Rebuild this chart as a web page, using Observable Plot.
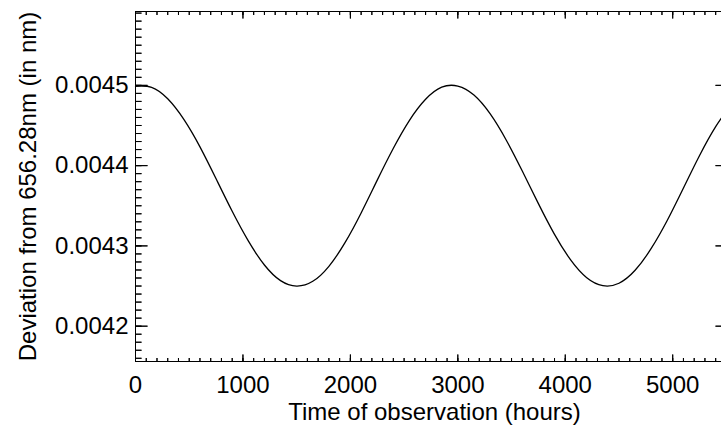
<!DOCTYPE html>
<html>
<head>
<meta charset="utf-8">
<script src="https://cdn.jsdelivr.net/npm/d3@7"></script>
<script src="https://cdn.jsdelivr.net/npm/@observablehq/plot@0.6"></script>
<style>
  html, body { margin: 0; padding: 0; background: #fff; overflow: hidden; }
  #chart svg { display: block; }
</style>
</head>
<body>
<div id="chart"></div>
<script>
// Values read (estimated) from the reference picture
const hours = [0, 150, 300, 450, 600, 750, 900, 1050, 1200, 1350, 1500, 1650, 1800, 1950, 2100, 2250, 2400, 2550, 2700, 2850, 3000, 3150, 3300, 3450, 3600, 3750, 3900, 4050, 4200, 4350, 4500, 4650, 4800, 4950, 5100, 5250, 5400, 5550];
const deviation = [0.0044989, 0.0044976, 0.0044833, 0.0044576, 0.0044234, 0.0043836, 0.0043431, 0.0043062, 0.0042762, 0.0042567, 0.0042500, 0.0042559, 0.0042746, 0.0043040, 0.0043410, 0.0043819, 0.0044216, 0.0044564, 0.0044826, 0.0044977, 0.0044991, 0.0044879, 0.0044647, 0.0044320, 0.0043933, 0.0043527, 0.0043144, 0.0042826, 0.0042604, 0.0042505, 0.0042535, 0.0042696, 0.0042968, 0.0043319, 0.0043721, 0.0044126, 0.0044486, 0.0044771];

const xMajorTicks = [0, 1000, 2000, 3000, 4000, 5000];
const yMajorTicks = [0.0042, 0.0043, 0.0044, 0.0045];
const xMinorTicks = d3.range(0, 55).map(i => i * 100);
const yMinorTicks = d3.range(416, 460).map(i => i / 100000);
const xDomain = [0, 5510];
const yDomain = [0.004156, 0.004592];

const xTitle = "Time of observation (hours)";
const yTitle = "Deviation from 656.28nm (in nm)";

const data = hours.map((h, i) => ({hours: h, deviation: deviation[i]}));

const tickMark = (values, channel, anchor, rotate, length) =>
  Plot.vector(values, {
    [channel]: d => d,
    frameAnchor: anchor,
    rotate,
    length,
    shape: "spike",
    r: 0,
    anchor: "start",
    stroke: "black",
    fill: "none",
    strokeWidth: 1
  });

const chart = Plot.plot({
  width: 721,
  height: 429,
  marginLeft: 135,
  marginRight: -6,
  marginTop: 11,
  marginBottom: 68,
  style: {
    fontFamily: "'Liberation Sans', Arial, Helvetica, sans-serif",
    fontSize: "24px",
    color: "black",
    background: "white"
  },
  x: {domain: xDomain, axis: null},
  y: {domain: yDomain, axis: null},
  marks: [
    Plot.line(data, {x: "hours", y: "deviation", curve: "natural", stroke: "black", strokeWidth: 1.3}),
    Plot.frame({stroke: "black", strokeWidth: 1}),
    tickMark(xMinorTicks, "x", "bottom", 0, 3.5),
    tickMark(xMajorTicks, "x", "bottom", 0, 7),
    tickMark(xMinorTicks, "x", "top", 180, 3.5),
    tickMark(xMajorTicks, "x", "top", 180, 7),
    tickMark(yMinorTicks, "y", "left", 90, 6),
    tickMark(yMajorTicks, "y", "left", 90, 12),
    tickMark(yMinorTicks, "y", "right", -90, 6),
    tickMark(yMajorTicks, "y", "right", -90, 12),
    Plot.axisX({ticks: xMajorTicks, tickSize: 0, tickPadding: 14, tickFormat: d => String(d), label: null, fill: "black"}),
    Plot.axisY({ticks: yMajorTicks, tickSize: 0, tickPadding: 7, tickFormat: d => d.toFixed(4), label: null, fill: "black"}),
    Plot.text([xTitle], {text: d => d, frameAnchor: "bottom", lineAnchor: "bottom", textAnchor: "middle", dy: 58, dx: 3, fill: "black"}),
    Plot.text([yTitle], {text: d => d, frameAnchor: "left", rotate: -90, lineAnchor: "bottom", textAnchor: "middle", dx: -100, fill: "black"})
  ]
});

document.getElementById("chart").appendChild(chart);
</script>
</body>
</html>
